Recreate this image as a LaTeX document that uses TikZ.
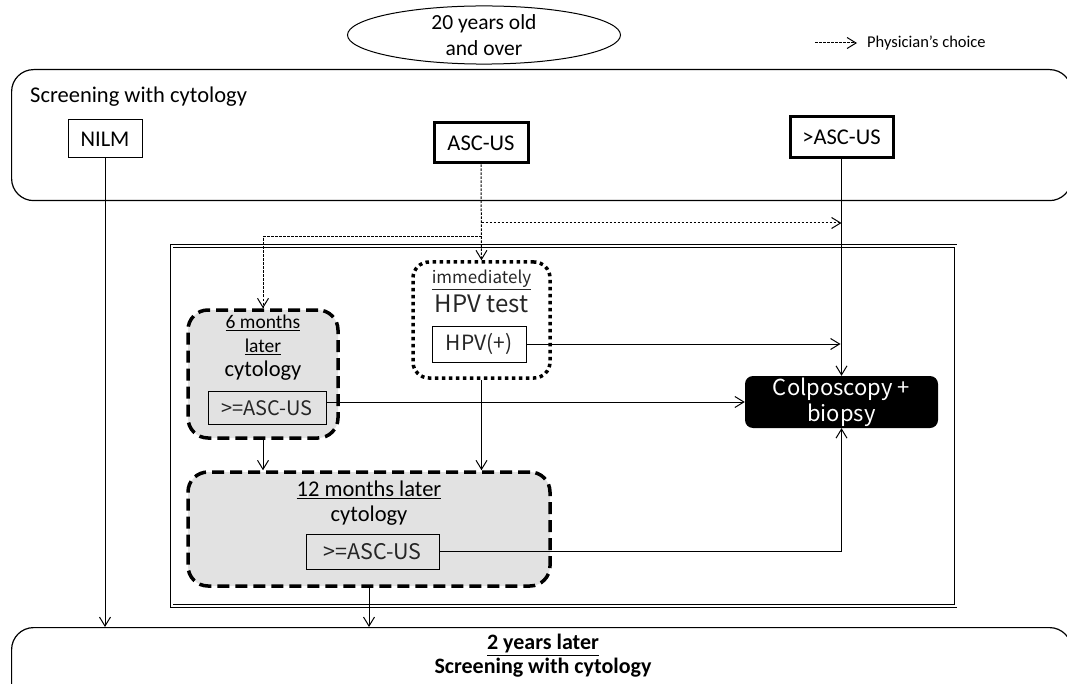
\documentclass[tikz,border=0pt]{standalone}
\usepackage{fontspec}
\setmainfont{Carlito}
\newfontfamily\thinf{Noto Sans CJK JP}
\usetikzlibrary{arrows.meta,shapes.geometric}
\newcommand\fsz[2]{\fontsize{#1}{#2}\selectfont}
\begin{document}
\begin{tikzpicture}[x=1pt,y=-1pt,
  conn/.style={-{Straight Barb[length=9pt,width=11pt]}, line width=1pt},
  choice/.style={conn, dash pattern=on 2.5pt off 1.5pt},
  bigbox/.style={draw, line width=1.2pt, rounded corners=22pt, anchor=north west, minimum width=1060pt, inner sep=0pt},
  plainbox/.style={draw, line width=1pt, inner sep=0pt, font=\fsz{22.5}{26}},
  thickbox/.style={draw, line width=3pt, inner sep=0pt, font=\fsz{22.5}{26}},
  thinbox/.style={draw, line width=1pt, inner sep=0pt, text=black!85},
  grayrnd/.style={draw, fill={rgb,255:red,226;green,226;blue,226}, line width=3.5pt, dash pattern=on 12pt off 6pt, rounded corners=20pt, inner sep=0pt},
  dotrnd/.style={draw, line width=3.5pt, dash pattern=on 3.5pt off 3.5pt, rounded corners=16pt, inner sep=0pt},
  frame/.style={draw, double=white, double distance=2pt, line width=0.8pt, inner sep=0pt},
  lbl/.style={inner sep=0pt, align=center}
]
\useasboundingbox (0,0) rectangle (1067,684);

% outer boxes
\node[bigbox, minimum height=131pt] (top) at (11,69) {};
\node[bigbox, minimum height=100pt] (bot) at (11,627) {};
\node[frame, minimum width=784pt, minimum height=360pt] (frame) at (563.5,426) {};

% start
\node[draw, ellipse, line width=1pt, minimum width=273pt, minimum height=54pt, inner sep=0pt, align=center, font=\fsz{21.5}{26}] (start) at (484,35) {20 years old\\and over};

% legend
\coordinate (lg1) at (815,43);
\coordinate (lg2) at (857,43);
\draw[choice] (lg1) -- (lg2);
\node[lbl, anchor=west, font=\fsz{16.5}{20}] (lgt) at (867,43) {Physician's choice};

% screening
\node[lbl, anchor=west, font=\fsz{22.5}{26}] (scr) at (30,97) {Screening with cytology};
\node[plainbox, minimum width=74pt, minimum height=38pt] (nilm) at (105,139) {NILM};
\node[thickbox, minimum width=94pt, minimum height=40pt] (asc) at (481,143) {ASC-US};
\node[thickbox, minimum width=103pt, minimum height=41pt] (gtasc) at (841.5,137.5) {>ASC-US};

% HPV test
\node[dotrnd, minimum width=137pt, minimum height=116pt] (hpv) at (481.5,320) {};
\node[lbl, font=\thinf\fsz{17}{20}, text=black!85] (imm) at (481.5,280) {\underline{immediately}};
\node[lbl, font=\thinf\fsz{24}{28}, text=black!85] (hpvt) at (481.5,304) {HPV test};
\node[thinbox, minimum width=94pt, minimum height=36pt, font=\thinf\fsz{21}{25}] (hpvpos) at (479,344) {HPV(+)};

% 6 months
\node[grayrnd, minimum width=150pt, minimum height=128pt] (six) at (263,374) {};
\node[lbl, font=\fsz{19.5}{23}] (sixa) at (263,323) {\underline{6 months}};
\node[lbl, font=\fsz{19.5}{23}] (sixb) at (263,347) {\underline{later}};
\node[lbl, font=\fsz{22.5}{26}] (sixc) at (263,371) {cytology};
\node[thinbox, minimum width=118pt, minimum height=33pt, font=\thinf\fsz{20}{24}] (asc6) at (267,408) {>=ASC-US};

% colposcopy
\node[fill=black, rounded corners=8pt, minimum width=193pt, minimum height=52pt, inner sep=0pt, text=white, align=center, font=\thinf\fsz{22}{26}] (colpo) at (841.5,402) {Colposcopy +\\biopsy};

% 12 months
\node[grayrnd, minimum width=362pt, minimum height=114pt] (twelve) at (369,529) {};
\node[lbl, font=\fsz{22.5}{26}] (twa) at (369,490) {\underline{12 months later}};
\node[lbl, font=\fsz{22.5}{26}] (twb) at (369,516) {cytology};
\node[thinbox, minimum width=133pt, minimum height=35pt, font=\thinf\fsz{21.5}{25}] (asc12) at (372.5,551.5) {>=ASC-US};

% bottom text
\node[lbl, font=\bfseries\fsz{22}{26}] (bta) at (543,645) {\underline{2 years later}};
\node[lbl, font=\bfseries\fsz{22}{26}] (btb) at (543,668) {Screening with cytology};

% connectors
\draw[conn] (nilm.south) -- (nilm.south |- bot.north);
\draw[conn] (gtasc.south) -- (colpo.north);
\draw[choice] (asc.south) -- (hpv.north);
\coordinate (d1) at (481.5,223);
\coordinate (d2) at (481.5,237);
\draw[choice] (d1) -- (d1 -| gtasc.south);
\draw[choice] (d2) -| (six.north);
\draw[conn] (hpvpos.east) -- ([xshift=-1pt]hpvpos.east -| gtasc.south);
\draw[conn] (asc6.east |- colpo.west) -- (colpo.west);
\draw[conn] (six.south) -- (six.south |- twelve.north);
\draw[conn] (hpv.south) -- (hpv.south |- twelve.north);
\draw[conn] (asc12.east) -| (colpo.south);
\draw[conn] (twelve.south) -- (twelve.south |- bot.north);
\end{tikzpicture}
\end{document}
